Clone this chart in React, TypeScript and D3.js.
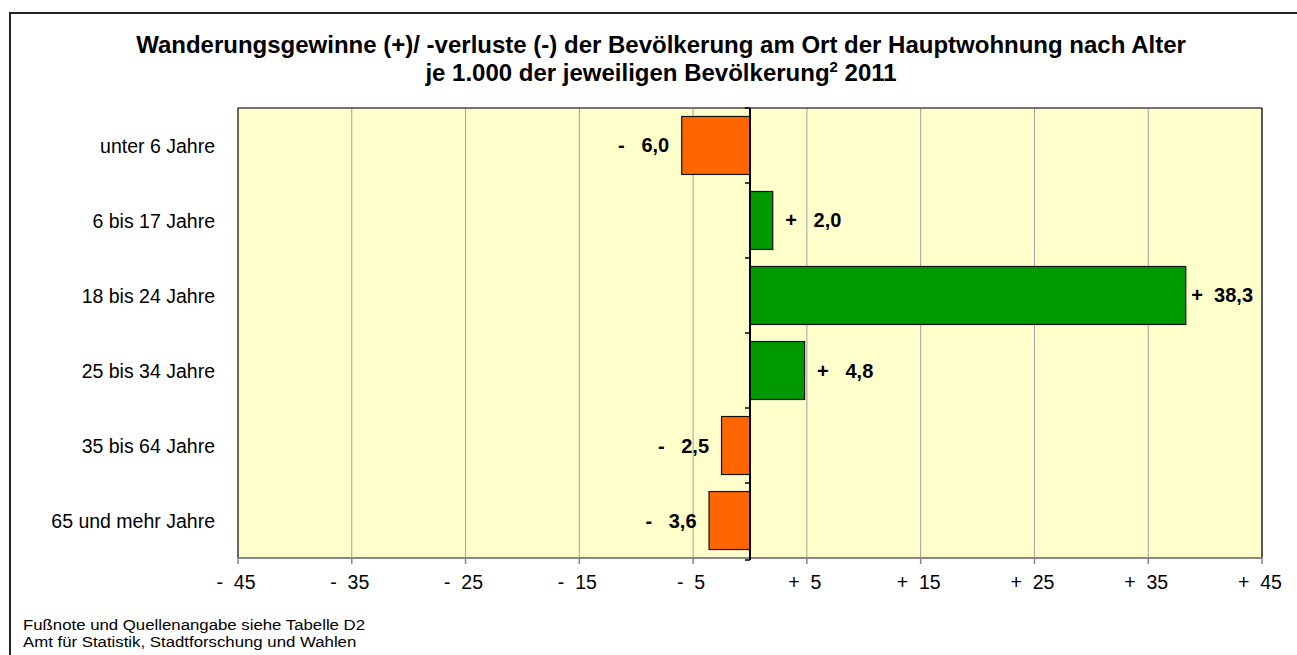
import React, { useEffect, useRef } from 'react'
import { select, scaleBand, scaleLinear, range } from 'd3'

const categories = ['unter 6 Jahre', '6 bis 17 Jahre', '18 bis 24 Jahre', '25 bis 34 Jahre', '35 bis 64 Jahre', '65 und mehr Jahre']
const values = [-6.0, 2.0, 38.3, 4.8, -2.5, -3.6]
const xTicks = [-45, -35, -25, -15, -5, 5, 15, 25, 35, 45]
const titleLine1 = 'Wanderungsgewinne (+)/ -verluste (-) der Bevölkerung am Ort der Hauptwohnung nach Alter'
const titleLine2 = ['je 1.000 der jeweiligen Bevölkerung', '2', ' 2011']
const footnotes = ['Fußnote und Quellenangabe siehe Tabelle D2', 'Amt für Statistik, Stadtforschung und Wahlen']

const App = () => {
    const svgRef = useRef<SVGSVGElement>(null)

    const width = 1297
    const height = 655
    const margin = { top: 108, right: 35, bottom: 97, left: 238 }
    const font = 'Arial, "Liberation Sans", sans-serif'

    useEffect(() => {
        const svg = select(svgRef.current)
        svg.selectAll('*').remove()

        // outer frame
        svg.append('rect')
            .attr('x', 10).attr('y', 13)
            .attr('width', 1400).attr('height', 800)
            .attr('fill', '#fff')
            .attr('stroke', '#222').attr('stroke-width', 2)

        const title = svg.append('g')
            .attr('font-family', font)
            .attr('font-weight', 'bold')
            .attr('font-size', 24)
            .attr('text-anchor', 'middle')
        title.append('text').attr('x', 661).attr('y', 53).text(titleLine1)
        const t2 = title.append('text').attr('x', 661).attr('y', 81)
        t2.append('tspan').text(titleLine2[0])
        t2.append('tspan').attr('font-size', 15).attr('dy', -9).text(titleLine2[1])
        t2.append('tspan').attr('dy', 9).text(titleLine2[2])

        const x = scaleLinear().domain([-45, 45]).range([margin.left, width - margin.right])
        const y = scaleBand<string>().domain(categories).range([margin.top, height - margin.bottom]).paddingInner(0.227).paddingOuter(0.113)
        const band = scaleBand<string>().domain(categories).range([margin.top, height - margin.bottom])

        const x0 = margin.left, x1 = width - margin.right
        const y0 = margin.top, y1 = height - margin.bottom

        svg.append('rect')
            .attr('x', x0).attr('y', y0)
            .attr('width', x1 - x0).attr('height', y1 - y0)
            .attr('fill', '#ffffcc')

        // gridlines
        svg.append('g').selectAll('line')
            .data(xTicks.slice(1, -1))
            .enter().append('line')
            .attr('x1', d => x(d)).attr('x2', d => x(d))
            .attr('y1', y0).attr('y2', y1)
            .attr('stroke', '#a0a0a0').attr('stroke-width', 1)

        // plot border
        svg.append('line').attr('x1', x0).attr('x2', x1).attr('y1', y0).attr('y2', y0).attr('stroke', '#444').attr('stroke-width', 1.5)
        svg.append('line').attr('x1', x0).attr('x2', x0).attr('y1', y0).attr('y2', y1).attr('stroke', '#333').attr('stroke-width', 1.5)
        svg.append('line').attr('x1', x1).attr('x2', x1).attr('y1', y0).attr('y2', y1).attr('stroke', '#222').attr('stroke-width', 1.5)

        // x axis
        svg.append('line').attr('x1', x0).attr('x2', x1).attr('y1', y1).attr('y2', y1).attr('stroke', '#888').attr('stroke-width', 2)
        const xa = svg.append('g')
        xa.selectAll('line')
            .data(xTicks)
            .enter().append('line')
            .attr('x1', d => x(d)).attr('x2', d => x(d))
            .attr('y1', y1).attr('y2', y1 + 6)
            .attr('stroke', '#888').attr('stroke-width', 1.5)
        xa.selectAll('text')
            .data(xTicks)
            .enter().append('text')
            .attr('x', d => x(d) - 2)
            .attr('y', 589)
            .attr('text-anchor', 'middle')
            .attr('font-family', font)
            .attr('font-size', 19.5)
            .style('white-space', 'pre')
            .text(d => (d < 0 ? '-' : '+') + '\u00a0\u00a0' + Math.abs(d))

        // bars
        svg.append('g').selectAll('rect')
            .data(values)
            .enter().append('rect')
            .attr('x', d => x(Math.min(0, d)))
            .attr('y', (d, i) => y(categories[i]) as number)
            .attr('width', d => Math.abs(x(d) - x(0)))
            .attr('height', y.bandwidth())
            .attr('fill', d => d < 0 ? '#ff6600' : '#009900')
            .attr('stroke', '#111').attr('stroke-width', 1.2)

        // value labels
        const vl = svg.append('g')
            .attr('font-family', font)
            .attr('font-weight', 'bold')
            .attr('font-size', 20)
        values.forEach((d, i) => {
            const cy = (y(categories[i]) as number) + y.bandwidth() / 2 + 7
            const num = Math.abs(d).toFixed(1).replace('.', ',')
            if (d < 0) {
                vl.append('text')
                    .attr('x', x(d) - 12.5).attr('y', cy)
                    .attr('text-anchor', 'end')
                    .style('white-space', 'pre')
                    .text('-\u00a0\u00a0\u00a0' + num)
            } else {
                const t = vl.append('text')
                    .attr('x', x(d) + 12.5).attr('y', cy)
                    .style('white-space', 'pre')
                    .text('+\u00a0\u00a0\u00a0' + num)
                // keep it inside the plot like the source does
                const node = t.node() as SVGTextElement
                const w = node.getComputedTextLength()
                if (x(d) + 12.5 + w > x1 - 9) {
                    t.attr('x', x1 - 9).attr('text-anchor', 'end').text('+\u00a0\u00a0' + num)
                }
            }
        })

        // zero axis with category ticks
        svg.append('line').attr('x1', x(0)).attr('x2', x(0)).attr('y1', y0).attr('y2', y1 + 2).attr('stroke', '#000').attr('stroke-width', 2)
        svg.append('g').selectAll('line')
            .data(range(categories.length + 1))
            .enter().append('line')
            .attr('x1', x(0) - 5).attr('x2', x(0))
            .attr('y1', i => y0 + i * band.step() + (i === categories.length ? 2 : 0))
            .attr('y2', i => y0 + i * band.step() + (i === categories.length ? 2 : 0))
            .attr('stroke', '#000').attr('stroke-width', 1.5)

        // category labels
        svg.append('g').selectAll('text')
            .data(categories)
            .enter().append('text')
            .attr('x', 215)
            .attr('y', d => (band(d) as number) + band.bandwidth() / 2 + 7)
            .attr('text-anchor', 'end')
            .attr('font-family', font)
            .attr('font-size', 19.5)
            .text(d => d)

        // footnotes, a touch wider than the font so they fill the same room
        svg.append('g').selectAll('text')
            .data(footnotes)
            .enter().append('text')
            .attr('transform', (d, i) => `translate(23, ${630 + i * 17}) scale(1.12, 1)`)
            .attr('font-family', font)
            .attr('font-size', 15)
            .text(d => d)
    }, [])

    return (
        <svg ref={svgRef} width={width} height={height}
            style={{ position: 'absolute', left: 0, top: 0, background: '#fff' }} />
    )
}

export default App
